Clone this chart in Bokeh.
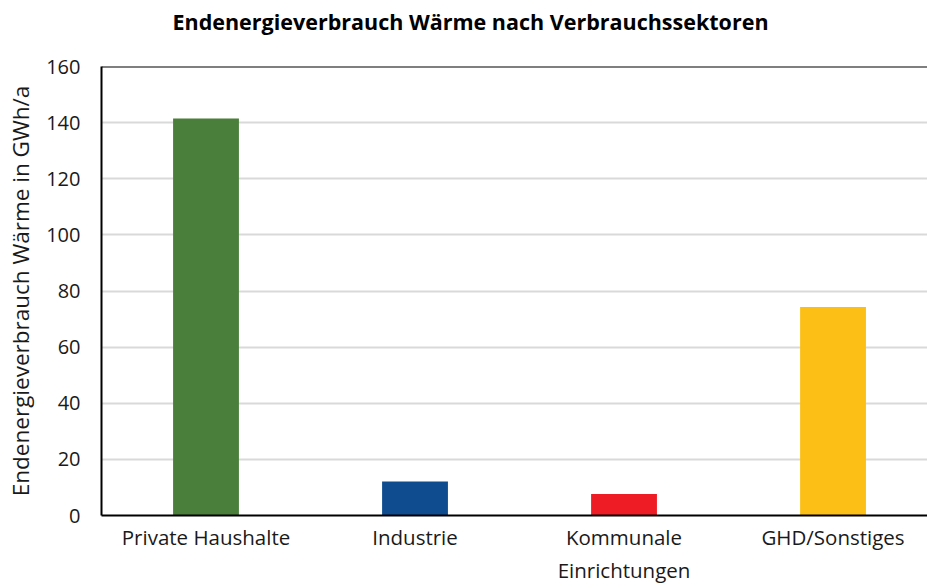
from bokeh.plotting import figure
from bokeh.models import Range1d, FixedTicker, Span, Title
from bokeh.embed import file_html
from bokeh.resources import INLINE

title_text = "Endenergieverbrauch Wärme nach Verbrauchssektoren"
categories = ["Private Haushalte", "Industrie", "Kommunale\nEinrichtungen", "GHD/Sonstiges"]
values = [141.5, 12.1, 7.7, 74.3]
colors = ["#4A7E3B", "#0F4C8F", "#EE1D25", "#FBBF16"]
y_ticks = [0, 20, 40, 60, 80, 100, 120, 140, 160]

FONT = "Open Sans"
TXT = "#1a1a1a"

W, H = 927, 587
LEFT, TOP, BOTTOM = 101, 66, 72

xs = list(range(len(categories)))

p = figure(width=W, height=H, output_backend="svg", toolbar_location=None,
           x_range=Range1d(-0.5, 3.452), y_range=Range1d(y_ticks[0], y_ticks[-1]),
           min_border_left=LEFT, min_border_right=0, min_border_top=TOP, min_border_bottom=BOTTOM)

p.vbar(x=xs, top=values, width=0.315, color=colors, line_color=None)

spacer = Title(text=" ", text_font_size="1px", standoff=28, text_color="white")
p.add_layout(spacer, "above")
main_title = Title(text=title_text, text_font=FONT, text_font_size="21.5px",
                   text_font_style="bold", text_color="#000000",
                   align="left", offset=71, standoff=0)
p.add_layout(main_title, "above")

p.outline_line_color = None
p.background_fill_color = "white"
p.border_fill_color = "white"

p.xgrid.grid_line_color = None
p.ygrid.grid_line_color = "#d9d9d9"
p.ygrid.grid_line_width = 2
p.ygrid.ticker = FixedTicker(ticks=y_ticks)

p.yaxis.ticker = FixedTicker(ticks=y_ticks)
p.yaxis.axis_label = "Endenergieverbrauch Wärme in GWh/a"
p.yaxis.axis_label_text_font = FONT
p.yaxis.axis_label_text_font_size = "22.5px"
p.yaxis.axis_label_text_font_style = "normal"
p.yaxis.axis_label_text_color = TXT
p.yaxis.axis_label_standoff = 7
p.yaxis.major_label_text_font = FONT
p.yaxis.major_label_text_font_size = "20px"
p.yaxis.major_label_text_color = TXT
p.yaxis.major_label_standoff = 21
p.yaxis.major_tick_out = 0
p.yaxis.major_tick_in = 0
p.yaxis.minor_tick_out = 0
p.yaxis.minor_tick_in = 0
p.yaxis.axis_line_color = "black"
p.yaxis.axis_line_width = 2

p.xaxis.ticker = FixedTicker(ticks=xs)
p.xaxis.major_label_overrides = {i: c for i, c in zip(xs, categories)}
p.xaxis.major_label_text_font = FONT
p.xaxis.major_label_text_font_size = "20.5px"
p.xaxis.major_label_text_color = TXT
p.xaxis.major_label_standoff = 7
p.xaxis.major_tick_out = 0
p.xaxis.major_tick_in = 0
p.xaxis.minor_tick_out = 0
p.xaxis.minor_tick_in = 0
p.xaxis.axis_line_color = "black"
p.xaxis.axis_line_width = 2

p.add_layout(Span(location=y_ticks[-1], dimension="width", line_color="black", line_width=2))

open("out.html", "w").write(file_html(p, INLINE))
